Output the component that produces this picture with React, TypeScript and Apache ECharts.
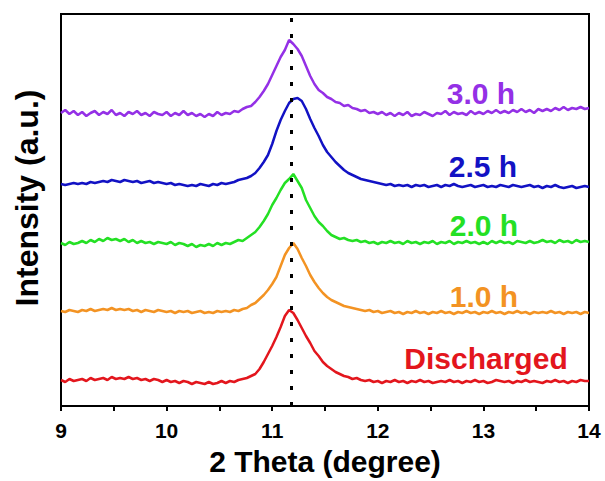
import React, { useEffect, useRef } from "react";
import * as echarts from "echarts";

// 2θ sampling grid of the scans (degrees)
const START = 9;
const STEP = 0.04;
const PEAK_POS = 11.18;
const X_TICKS = [9, 10, 11, 12, 13, 14];

// Intensity (a.u.), one value per 0.04° from 9° to 14°
const discharged = [
  26, 24, 27, 25, 26, 27, 25, 28, 26, 27,
  28, 26, 29, 27, 28, 27, 29, 27, 28, 26,
  27, 25, 27, 26, 24, 26, 24, 25, 23, 25,
  24, 22, 24, 23, 22, 24, 22, 23, 25, 23,
  25, 24, 26, 27, 28, 30, 32, 37, 44, 52,
  60, 69, 79, 90, 96, 93, 86, 78, 70, 63,
  55, 50, 44, 40, 37, 34, 32, 30, 29, 27,
  28, 26, 25, 26, 24, 25, 23, 25, 24, 26,
  24, 25, 23, 25, 24, 26, 24, 25, 23, 24,
  25, 24, 26, 24, 25, 23, 25, 24, 26, 24,
  25, 23, 24, 26, 25, 24, 25, 23, 25, 24,
  26, 24, 25, 24, 23, 25, 24, 26, 24, 25,
  23, 25, 24, 26, 25, 25,
];
const h10 = [
  95, 94, 96, 95, 94, 96, 95, 97, 95, 96,
  97, 96, 98, 96, 97, 96, 97, 95, 96, 94,
  96, 95, 94, 96, 95, 94, 95, 93, 95, 94,
  95, 93, 94, 95, 93, 94, 93, 95, 94, 95,
  94, 96, 95, 97, 98, 101, 103, 107, 111, 116,
  122, 129, 140, 151, 158, 163, 157, 148, 140, 131,
  124, 118, 113, 109, 106, 104, 102, 100, 99, 98,
  97, 96, 95, 96, 94, 95, 93, 94, 95, 93,
  94, 92, 94, 93, 95, 93, 94, 92, 94, 93,
  95, 93, 94, 92, 94, 93, 95, 93, 94, 92,
  94, 93, 95, 93, 94, 92, 94, 93, 95, 93,
  94, 92, 94, 93, 94, 93, 95, 93, 94, 92,
  94, 93, 94, 92, 94, 93,
];
const h20 = [
  163, 161, 164, 162, 163, 165, 163, 166, 164, 167,
  165, 168, 166, 167, 165, 167, 164, 166, 163, 165,
  163, 164, 162, 164, 163, 162, 164, 161, 163, 162,
  160, 162, 159, 161, 160, 162, 160, 163, 161, 163,
  162, 164, 166, 165, 168, 171, 174, 179, 185, 192,
  201, 208, 216, 223, 227, 232, 225, 218, 206, 198,
  190, 184, 180, 175, 171, 169, 167, 168, 166, 165,
  166, 164, 165, 163, 164, 162, 164, 163, 165, 163,
  164, 162, 165, 163, 164, 162, 164, 163, 165, 162,
  164, 163, 165, 162, 164, 163, 165, 163, 164, 162,
  164, 162, 165, 163, 165, 163, 164, 162, 165, 164,
  163, 165, 163, 164, 166, 164, 165, 163, 166, 164,
  165, 163, 166, 164, 165, 164,
];
const h25 = [
  222, 221, 222, 223, 222, 223, 222, 224, 223, 224,
  225, 224, 226, 225, 224, 226, 225, 224, 225, 223,
  224, 225, 223, 224, 223, 222, 223, 221, 222, 221,
  220, 221, 220, 222, 221, 220, 222, 221, 223, 222,
  223, 224, 226, 227, 228, 230, 233, 238, 244, 251,
  262, 275, 286, 295, 303, 307, 308, 305, 297, 287,
  278, 270, 261, 254, 249, 244, 240, 236, 233, 231,
  229, 227, 226, 225, 224, 223, 222, 221, 222, 220,
  221, 220, 221, 219, 221, 220, 221, 219, 220, 221,
  219, 221, 220, 222, 220, 219, 220, 221, 219, 220,
  221, 219, 220, 219, 221, 220, 219, 221, 220, 219,
  220, 221, 219, 220, 218, 220, 219, 221, 219, 218,
  219, 220, 218, 219, 220, 219,
];
const h30 = [
  293, 296, 292, 295, 291, 294, 290, 293, 295, 291,
  294, 292, 296, 291, 293, 290, 294, 292, 295, 291,
  293, 290, 294, 292, 291, 294, 290, 293, 291, 295,
  291, 293, 290, 292, 289, 292, 290, 294, 291, 293,
  292, 295, 294, 297, 299, 300, 304, 309, 315, 322,
  331, 340, 349, 356, 366, 362, 357, 350, 340, 330,
  322, 316, 313, 309, 307, 304, 303, 300, 301, 298,
  297, 295, 296, 293, 294, 292, 294, 291, 293, 290,
  293, 291, 294, 290, 292, 291, 294, 292, 290, 293,
  292, 295, 291, 294, 292, 293, 291, 295, 292, 294,
  292, 295, 293, 296, 293, 295, 293, 296, 294, 297,
  294, 296, 293, 297, 295, 297, 295, 298, 296, 299,
  296, 298, 297, 299, 297, 298,
];

const SERIES = [
  { name: "Discharged", values: discharged, color: "#e3161d" },
  { name: "1.0 h", values: h10, color: "#f39323" },
  { name: "2.0 h", values: h20, color: "#24e024" },
  { name: "2.5 h", values: h25, color: "#1212c4" },
  { name: "3.0 h", values: h30, color: "#9430e6" },
];

// label anchor points (px) for the curve captions
const LABEL_POS: Record<string, [number, number]> = {
  "Discharged": [486, 358],
  "1.0 h": [484, 296],
  "2.0 h": [484, 225],
  "2.5 h": [483, 166],
  "3.0 h": [481, 93],
};

const FONT = "Arial, 'Liberation Sans', Helvetica, sans-serif";

export default function App() {
  const ref = useRef<HTMLDivElement>(null);

  useEffect(() => {
    if (!ref.current) return;
    const chart = echarts.init(ref.current, null, { renderer: "svg" });

    const series: any[] = SERIES.map((s, idx) => ({
      type: "line",
      name: s.name,
      data: s.values.map((v, i) => [+(START + i * STEP).toFixed(2), v]),
      showSymbol: false,
      smooth: false,
      lineStyle: { color: s.color, width: 2.5 },
      itemStyle: { color: s.color },
      z: 3,
      markLine:
        idx === 0
          ? {
              silent: true,
              symbol: "none",
              label: { show: false },
              lineStyle: { color: "#000", width: 3, type: [4, 12] },
              data: [{ xAxis: PEAK_POS }],
            }
          : undefined,
    }));

    const graphic: any[] = SERIES.map((s) => ({
      type: "text",
      x: LABEL_POS[s.name][0],
      y: LABEL_POS[s.name][1],
      style: {
        text: s.name,
        fill: s.color,
        font: `bold 30px ${FONT}`,
        align: "center",
        verticalAlign: "middle",
      },
      z: 10,
    }));
    graphic.push({
      type: "text",
      x: 27,
      y: 198,
      rotation: Math.PI / 2,
      style: {
        text: "Intensity (a.u.)",
        fill: "#000",
        font: `bold 32px ${FONT}`,
        align: "center",
        verticalAlign: "middle",
      },
    });

    chart.setOption({
      animation: false,
      grid: {
        left: 61,
        right: 16,
        top: 14,
        bottom: 75,
        show: true,
        borderColor: "#000",
        borderWidth: 2,
        backgroundColor: "transparent",
      },
      xAxis: {
        type: "value",
        min: 9,
        max: 14,
        interval: 0.5,
        name: "2 Theta (degree)",
        nameLocation: "middle",
        nameGap: 40,
        nameTextStyle: { color: "#000", fontSize: 30, fontWeight: "bold", fontFamily: FONT },
        axisLine: { show: true, lineStyle: { color: "#000", width: 2 } },
        axisTick: { show: true, inside: false, length: 5, lineStyle: { color: "#000", width: 2 } },
        axisLabel: {
          color: "#000",
          fontSize: 21,
          fontWeight: "bold",
          fontFamily: FONT,
          margin: 14,
          formatter: (v: number) => (X_TICKS.includes(v) ? String(v) : ""),
        },
        splitLine: { show: false },
      },
      yAxis: {
        type: "value",
        min: 0,
        max: 392,
        axisLine: { show: false },
        axisTick: { show: false },
        axisLabel: { show: false },
        splitLine: { show: false },
      },
      series,
      graphic,
    });

    return () => chart.dispose();
  }, []);

  return (
    <div
      ref={ref}
      style={{ position: "fixed", left: 0, top: 0, width: 605, height: 481, background: "#fff" }}
    />
  );
}
